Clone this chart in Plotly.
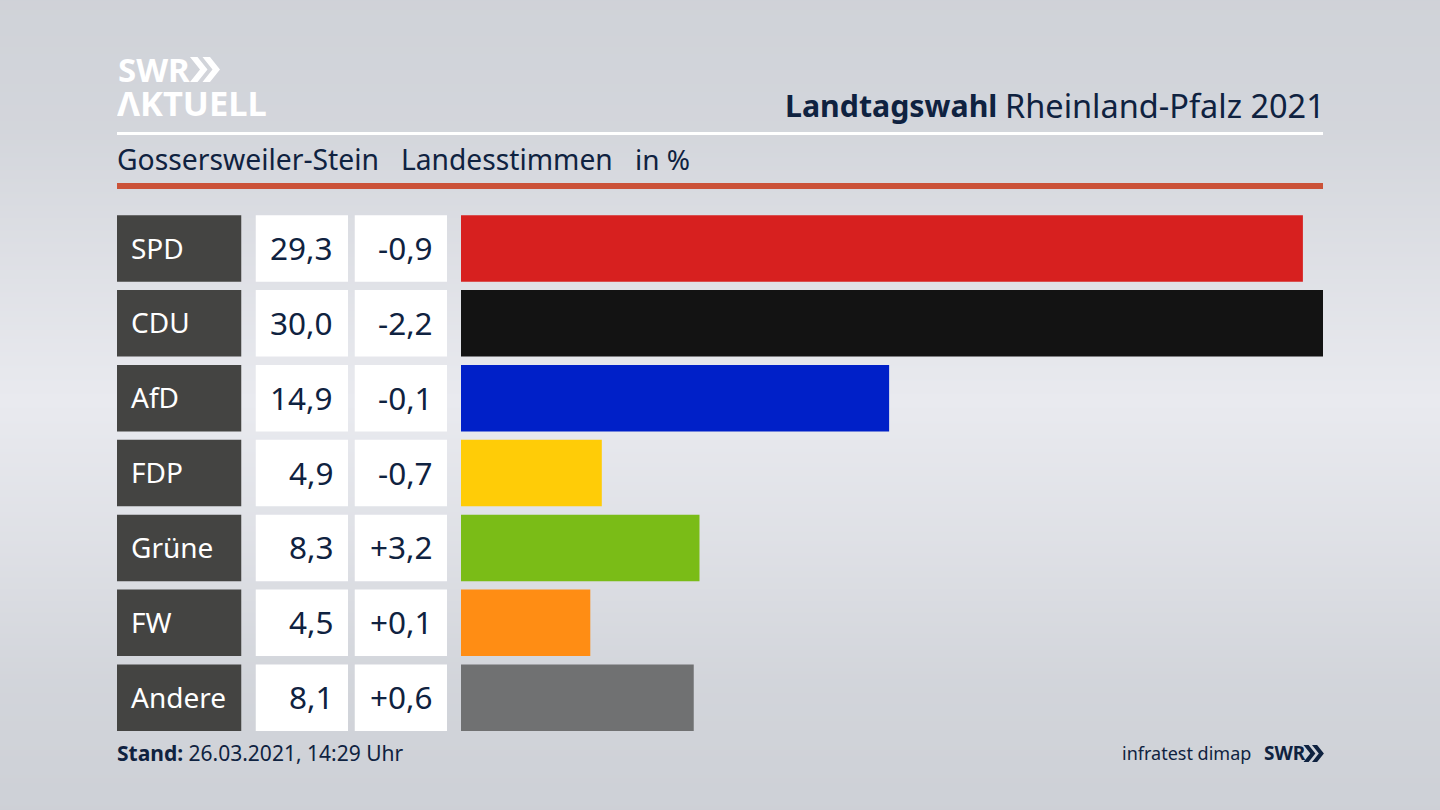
import plotly.graph_objects as go

W, H = 1440, 810
FONT = "Noto Sans"
NAVY = "#0f2240"

parties = ["SPD", "CDU", "AfD", "FDP", "Grüne", "FW", "Andere"]
shares = [29.3, 30.0, 14.9, 4.9, 8.3, 4.5, 8.1]
changes = [-0.9, -2.2, -0.1, -0.7, 3.2, 0.1, 0.6]
bar_colors = ["#d7201f", "#131313", "#0020c8", "#ffcc07", "#7abc17", "#ff8d14", "#707172"]

# background brightness from top to bottom of the page
bg_y = [0, 130, 270, 400, 540, 680, 810]
bg_z = [0.12, 0.25, 0.65, 1.0, 0.65, 0.22, 0.05]


def px(x):
    return x / W


def py(y):
    return 1 - y / H


def de(v, sign=False):
    s = f"{v:+.1f}" if sign else f"{v:.1f}"
    return s.replace(".", ",")


def add_text(fig, x, y, text, size, color=NAVY, anchor="left", height=None):
    fig.add_annotation(
        x=px(x), y=py(y), xref="paper", yref="paper", text=text, showarrow=False,
        xanchor=anchor, yanchor="middle", align=anchor, borderpad=0, height=height,
        font=dict(family=FONT, size=size, color=color),
    )


def add_column(fig, axis, color):
    # one full-width cell per party, drawn on its own x axis
    fig.add_trace(go.Bar(
        x=[1] * len(parties), y=parties, orientation="h", width=0.888,
        marker=dict(color=color, line_width=0), xaxis=axis, yaxis="y2",
        hoverinfo="skip", showlegend=False,
    ))


def chevrons(x, y, h, color):
    # the double arrow of the SWR logo, x is the left edge and y the top
    d = h * 0.4
    t = h * 0.3
    shapes = []
    for dx in (0, h * 0.5):
        p = [(x + dx, y), (x + dx + t, y), (x + dx + t + d, y + h / 2),
             (x + dx + t, y + h), (x + dx, y + h), (x + dx + d, y + h / 2)]
        path = "M " + " L ".join(f"{px(a):.5f},{py(b):.5f}" for a, b in p) + " Z"
        shapes.append(dict(type="path", xref="paper", yref="paper", path=path,
                           fillcolor=color, line_width=0))
    return shapes


fig = go.Figure()

# background sits on the first subplot so everything else is drawn above it
fig.add_trace(go.Heatmap(
    x=[0, 1], y=bg_y, z=[[v, v] for v in bg_z], xaxis="x", yaxis="y",
    zsmooth="best", showscale=False, hoverinfo="skip", zmin=0, zmax=1,
    colorscale=[[0, "#cccfd5"], [1, "#e9eaef"]],
))

add_column(fig, "x3", "#444442")
add_column(fig, "x4", "#ffffff")
add_column(fig, "x5", "#ffffff")

fig.add_trace(go.Bar(
    x=shares, y=parties, orientation="h", width=0.888,
    marker=dict(color=bar_colors, line_width=0), xaxis="x2", yaxis="y2",
    hoverinfo="skip", showlegend=False,
))

hidden = dict(visible=False, fixedrange=True)
fig.update_layout(
    width=W, height=H, margin=dict(l=0, r=0, t=0, b=0), showlegend=False,
    barmode="overlay", paper_bgcolor="#d8dae0", plot_bgcolor="rgba(0,0,0,0)",
    xaxis=dict(domain=[0, 1], range=[0, 1], anchor="y", **hidden),
    yaxis=dict(domain=[0, 1], range=[810, 0], anchor="x", **hidden),
    xaxis2=dict(domain=[px(461), px(1323)], range=[0, 30], anchor="y2", **hidden),
    xaxis3=dict(domain=[px(117), px(241.5)], range=[0, 1], anchor="y2", **hidden),
    xaxis4=dict(domain=[px(255.5), px(348)], range=[0, 1], anchor="y2", **hidden),
    xaxis5=dict(domain=[px(354.5), px(447)], range=[0, 1], anchor="y2", **hidden),
    yaxis2=dict(domain=[py(735.2), py(211)], range=[6.5, -0.5], type="category",
                categoryorder="array", categoryarray=parties, anchor="x2", **hidden),
    shapes=[
        dict(type="rect", xref="paper", yref="paper", x0=px(117), x1=px(1323),
             y0=py(135), y1=py(132), fillcolor="#ffffff", line_width=0),
        dict(type="rect", xref="paper", yref="paper", x0=px(117), x1=px(1323),
             y0=py(189), y1=py(183), fillcolor="#cb5238", line_width=0),
    ] + chevrons(190, 57, 25, "#ffffff") + chevrons(1303.5, 745, 17, NAVY),
)

# header
add_text(fig, 116.5, 69, "<b>SWR</b>", 33, "#ffffff", height=30)
add_text(fig, 116, 102, "<b>ΛKTUELL</b>", 34.5, "#ffffff", height=30)
add_text(fig, 783.5, 105, "<b>Landtagswahl</b>", 30.3)
add_text(fig, 1326, 105, "Rheinland-Pfalz 2021", 32.5, anchor="right")
add_text(fig, 115.5, 159, "Gossersweiler-Stein", 28.3)
add_text(fig, 399.5, 159, "Landesstimmen", 28.2)
add_text(fig, 634, 159, "in %", 28)

# rows
for i, party in enumerate(parties):
    y = 247.5 + i * 74.86
    add_text(fig, 130, y, party, 28, "#ffffff")
    add_text(fig, 334, y, de(shares[i]), 31.5, anchor="right")
    add_text(fig, 433.5, y, de(changes[i], sign=True), 31.5, anchor="right")

# footer
add_text(fig, 116, 753, "<b>Stand:</b> 26.03.2021, 14:29 Uhr", 21)
add_text(fig, 1252, 753, "infratest dimap", 18, anchor="right")
add_text(fig, 1263, 753, "<b>SWR</b>", 19)

fig.write_html("out.html", config={"displayModeBar": False},
               post_script="document.body.style.margin='0';")
